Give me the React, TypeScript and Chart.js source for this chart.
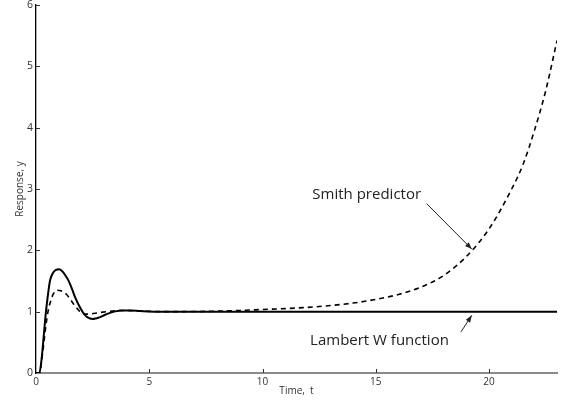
import React, { useEffect, useRef } from "react";
import { Chart, registerables } from "chart.js";

Chart.register(...registerables);

// Time samples and responses
const tLambert = [0, 0.15, 0.25, 0.35, 0.44, 0.53, 0.62, 0.75, 0.88, 1.03, 1.18, 1.3, 1.43, 1.58, 1.72, 1.87, 2.02, 2.15, 2.26, 2.5, 2.65, 2.83, 3.05, 3.27, 3.5, 3.78, 4.2, 4.6, 5.2, 6, 8, 10, 12, 14, 16, 18, 20, 22, 23];
const yLambert = [0, 0, 0.24, 0.64, 1.0, 1.28, 1.51, 1.63, 1.68, 1.69, 1.65, 1.59, 1.51, 1.38, 1.24, 1.12, 1.02, 0.95, 0.91, 0.88, 0.89, 0.91, 0.95, 0.98, 1.005, 1.02, 1.02, 1.01, 1.0, 1.0, 1.0, 1.0, 1.0, 1.0, 1.0, 1.0, 1.0, 1.0, 1.0];

const tSmith = [0, 0.17, 0.25, 0.35, 0.44, 0.53, 0.66, 0.78, 0.94, 1.1, 1.25, 1.35, 1.5, 1.65, 1.8, 1.94, 2.16, 2.35, 2.53, 2.8, 3.12, 3.5, 3.85, 4.3, 5, 6, 7, 8, 9, 10, 11, 12, 13, 14, 15, 16, 17, 18, 19, 20, 21, 21.5, 22, 22.5, 23];
const ySmith = [0, 0, 0.2, 0.5, 0.78, 1.0, 1.19, 1.3, 1.35, 1.34, 1.31, 1.28, 1.21, 1.13, 1.06, 1.0, 0.96, 0.96, 0.97, 0.985, 1.0, 1.015, 1.02, 1.015, 1.005, 1.0, 1.003, 1.008, 1.02, 1.035, 1.05, 1.07, 1.1, 1.14, 1.2, 1.28, 1.4, 1.59, 1.9, 2.35, 3.0, 3.4, 3.95, 4.6, 5.42];

const xTickValues = [0, 5, 10, 15, 20];
const yTickValues = [0, 1, 2, 3, 4, 5, 6];

// Annotations in data units: label anchor, arrow start, arrow end
const smithLabel = { text: "Smith predictor", t: 12.2, y: 2.9, t0: 17.25, y0: 2.76, t1: 19.24, y1: 2.02 };
const lambertLabel = { text: "Lambert W function", t: 12.1, y: 0.53, t0: 18.76, y0: 0.67, t1: 19.24, y1: 0.94 };

const FONT = '"Open Sans", "Noto Sans", sans-serif';

const inwardTicks = {
  id: "inwardTicks",
  afterDraw(chart: any) {
    const { ctx, chartArea, scales } = chart;
    ctx.save();
    ctx.strokeStyle = "#333";
    ctx.lineWidth = 1;
    ctx.beginPath();
    for (const v of yTickValues) {
      if (v === 0) continue;
      const py = Math.round(scales.y.getPixelForValue(v)) + 0.5;
      ctx.moveTo(chartArea.left, py);
      ctx.lineTo(chartArea.left + 4, py);
    }
    for (const v of xTickValues) {
      if (v === 0) continue;
      const px = Math.round(scales.x.getPixelForValue(v)) + 0.5;
      ctx.moveTo(px, chartArea.bottom);
      ctx.lineTo(px, chartArea.bottom - 4);
    }
    ctx.stroke();
    ctx.restore();
  },
};

function drawArrow(ctx: CanvasRenderingContext2D, x0: number, y0: number, x1: number, y1: number) {
  ctx.beginPath();
  ctx.moveTo(x0, y0);
  ctx.lineTo(x1, y1);
  ctx.stroke();
  const ang = Math.atan2(y1 - y0, x1 - x0);
  const len = 7;
  const wid = 2.6;
  ctx.beginPath();
  ctx.moveTo(x1, y1);
  ctx.lineTo(x1 - len * Math.cos(ang) + wid * Math.sin(ang), y1 - len * Math.sin(ang) - wid * Math.cos(ang));
  ctx.lineTo(x1 - len * Math.cos(ang) - wid * Math.sin(ang), y1 - len * Math.sin(ang) + wid * Math.cos(ang));
  ctx.closePath();
  ctx.fill();
}

const annotations = {
  id: "annotations",
  afterDraw(chart: any) {
    const { ctx, scales } = chart;
    const x = scales.x;
    const y = scales.y;
    ctx.save();
    ctx.fillStyle = "#222";
    ctx.strokeStyle = "#222";
    ctx.lineWidth = 1;
    ctx.font = `15px ${FONT}`;
    ctx.textBaseline = "middle";
    ctx.textAlign = "left";
    for (const a of [smithLabel, lambertLabel]) {
      ctx.fillText(a.text, x.getPixelForValue(a.t), y.getPixelForValue(a.y));
      drawArrow(ctx, x.getPixelForValue(a.t0), y.getPixelForValue(a.y0), x.getPixelForValue(a.t1), y.getPixelForValue(a.y1));
    }
    ctx.restore();
  },
};

export default function App() {
  const ref = useRef<HTMLCanvasElement | null>(null);
  useEffect(() => {
    if (!ref.current) return;
    const chart = new Chart(ref.current, {
      type: "line",
      data: {
        datasets: [
          {
            label: "Lambert W function",
            data: tLambert.map((t, i) => ({ x: t, y: yLambert[i] })),
            borderColor: "#000",
            borderWidth: 2,
            pointRadius: 0,
            cubicInterpolationMode: "monotone",
            fill: false,
          },
          {
            label: "Smith predictor",
            data: tSmith.map((t, i) => ({ x: t, y: ySmith[i] })),
            borderColor: "#000",
            borderWidth: 1.6,
            borderDash: [5, 4],
            pointRadius: 0,
            cubicInterpolationMode: "monotone",
            fill: false,
          },
        ],
      },
      options: {
        animation: false,
        responsive: false,
        layout: { padding: { left: 0, right: 7, top: 5, bottom: 0 } },
        plugins: { legend: { display: false }, tooltip: { enabled: false } },
        scales: {
          x: {
            type: "linear",
            min: 0,
            max: 23,
            afterBuildTicks: (s: any) => {
              s.ticks = xTickValues.map((v) => ({ value: v }));
            },
            ticks: { padding: 3, color: "#333", font: { family: FONT, size: 10 }, maxRotation: 0, autoSkip: false },
            grid: { display: false, drawTicks: false },
            border: { display: true, color: "#8a8a8a", width: 2 },
            title: { display: true, text: "Time,  t", color: "#333", font: { family: FONT, size: 10 }, padding: { top: 0, bottom: 6 } },
            afterFit: (s: any) => {
              s.height = 30;
              s.paddingLeft = 0;
              s.paddingRight = 0;
            },
          },
          y: {
            type: "linear",
            min: 0,
            max: 6,
            afterBuildTicks: (s: any) => {
              s.ticks = yTickValues.map((v) => ({ value: v }));
            },
            ticks: { padding: 3, color: "#333", font: { family: FONT, size: 10.5 }, autoSkip: false },
            grid: { display: false, drawTicks: false },
            border: { display: true, color: "#000", width: 1.3 },
            title: { display: true, text: "Response, y", color: "#333", font: { family: FONT, size: 10 }, padding: { top: 14, bottom: 0 } },
            afterFit: (s: any) => {
              s.width = 36;
              s.paddingTop = 0;
              s.paddingBottom = 0;
            },
          },
        },
      },
      plugins: [inwardTicks, annotations],
    } as any);
    return () => chart.destroy();
  }, []);
  return (
    <div style={{ position: "absolute", left: 0, top: 0, width: 564, height: 403, background: "#fff" }}>
      <canvas ref={ref} width={564} height={403} />
    </div>
  );
}
